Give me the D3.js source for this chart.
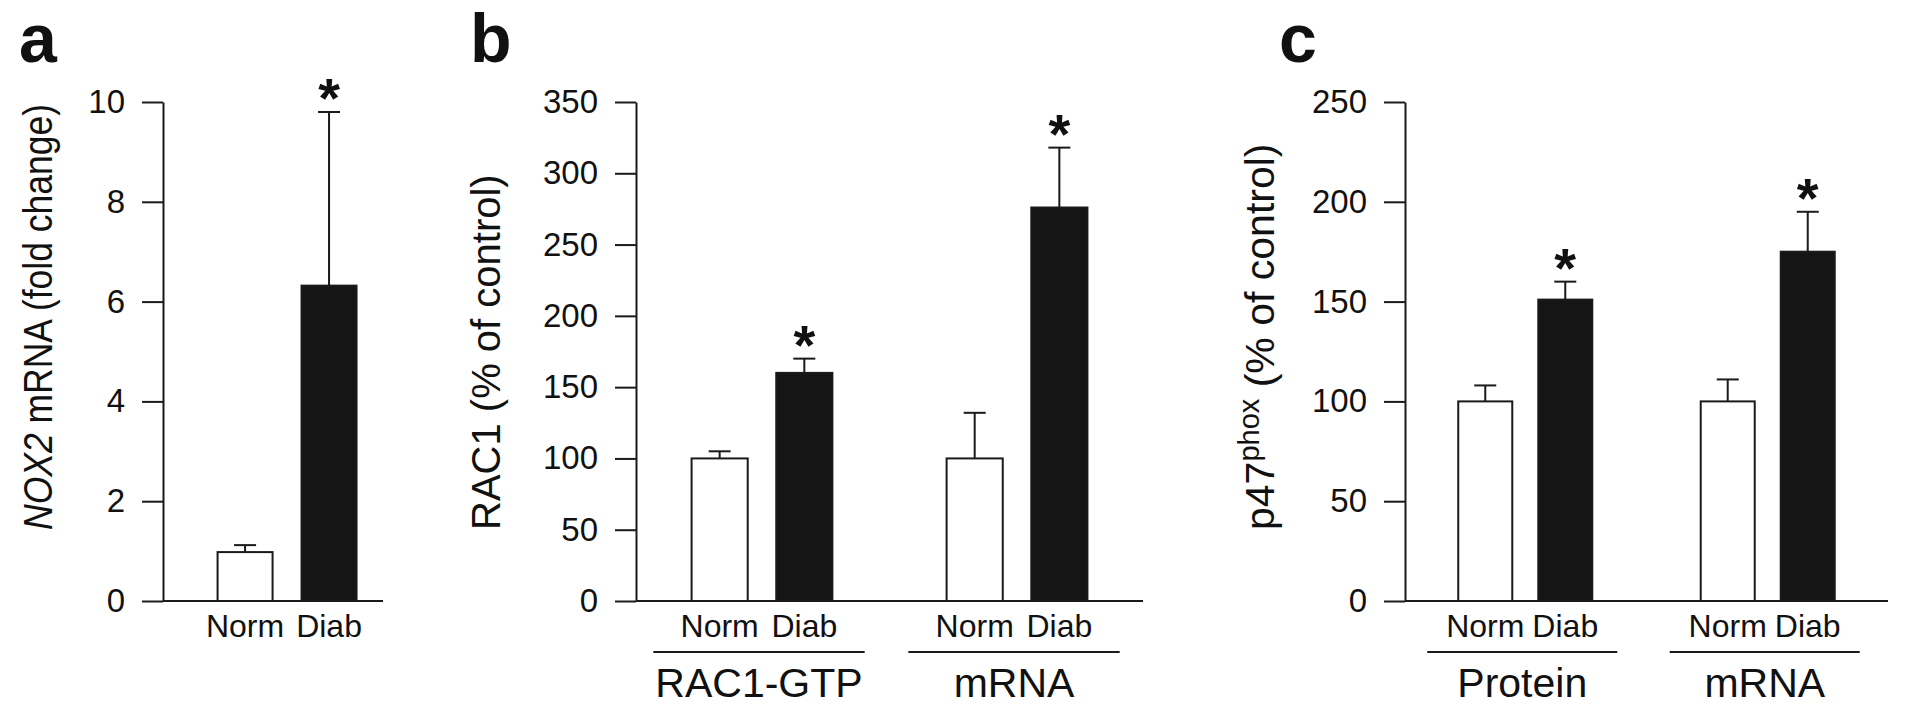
<!DOCTYPE html>
<html><head><meta charset="utf-8">
<script src="https://cdn.jsdelivr.net/npm/d3@7"></script>
<style>
html,body{margin:0;padding:0;background:#fff;}
svg{display:block;}
text{font-family:"Liberation Sans", Arial, Helvetica, sans-serif; fill:#111;}
</style></head><body>
<svg id="chart" width="1920" height="711"></svg>
<script>
// ---------------- data ----------------
const conditions = ["Norm", "Diab"];

const panelAGroups = ["all"];
const panelAMeans  = [[0.98, 6.32]];
const panelAErrors = [[0.14, 3.48]];
const panelAStars  = [[false, true]];
const panelATicks  = [0, 2, 4, 6, 8, 10];

const panelBGroups = ["RAC1-GTP", "mRNA"];
const panelBMeans  = [[100, 160], [100, 276]];
const panelBErrors = [[5, 10], [32, 42]];
const panelBStars  = [[false, true], [false, true]];
const panelBTicks  = [0, 50, 100, 150, 200, 250, 300, 350];

const panelCGroups = ["Protein", "mRNA"];
const panelCMeans  = [[100, 151], [100, 175]];
const panelCErrors = [[8, 9], [11, 20]];
const panelCStars  = [[false, true], [false, true]];
const panelCTicks  = [0, 50, 100, 150, 200, 250];

// ---------------- drawing ----------------
const svg = d3.select("#chart");
const FONT = '"Liberation Sans", Arial, Helvetica, sans-serif';
const INK = "#1a1a1a";

function drawPanel(cfg) {
  const g = svg.append("g");
  const y = d3.scaleLinear().domain([0, d3.max(cfg.ticks)]).range([601, 102]);
  const xOuter = d3.scaleBand().domain(cfg.groups)
      .range([cfg.axisX, cfg.endX])
      .paddingInner(cfg.outerPI).paddingOuter(cfg.outerPO).align(cfg.align);
  const xInner = d3.scaleBand().domain(conditions)
      .range([0, xOuter.bandwidth()])
      .paddingInner(cfg.innerPI).paddingOuter(cfg.innerPI / 2);

  // y axis
  const yAxis = d3.axisLeft(y).tickValues(cfg.ticks).tickSize(21).tickSizeOuter(0).tickPadding(17);
  const ya = g.append("g").attr("transform", `translate(${cfg.axisX},0)`).call(yAxis);
  ya.attr("font-size", 33).attr("font-family", FONT);
  ya.selectAll("path.domain").attr("stroke", INK).attr("stroke-width", 2);
  ya.selectAll(".tick line").attr("stroke", INK).attr("stroke-width", 2);
  ya.selectAll(".tick text").attr("fill", "#111");

  // baseline
  g.append("line").attr("x1", cfg.axisX).attr("x2", cfg.endX)
    .attr("y1", y(0)).attr("y2", y(0)).attr("stroke", INK).attr("stroke-width", 2);

  cfg.groups.forEach((grp, gi) => {
    const gx = xOuter(grp);
    conditions.forEach((c, ci) => {
      const m = cfg.means[gi][ci], e = cfg.errors[gi][ci];
      const x0 = gx + xInner(c), w = xInner.bandwidth(), cx = x0 + w / 2;
      // error bar
      g.append("line").attr("x1", cx).attr("x2", cx).attr("y1", y(m)).attr("y2", y(m + e))
        .attr("stroke", INK).attr("stroke-width", 2);
      g.append("line").attr("x1", cx - 11).attr("x2", cx + 11).attr("y1", y(m + e)).attr("y2", y(m + e))
        .attr("stroke", INK).attr("stroke-width", 2);
      // bar
      g.append("rect").attr("x", x0).attr("y", y(m)).attr("width", w).attr("height", y(0) - y(m))
        .attr("fill", ci === 0 ? "#ffffff" : "#151515").attr("stroke", INK).attr("stroke-width", 2);
      if (cfg.stars[gi][ci]) {
        g.append("text").attr("x", cx).attr("y", y(m + e) + 5).attr("text-anchor", "middle")
          .attr("font-size", 56).attr("font-weight", "bold").text("*");
      }
    });
    // condition labels
    const xa = g.append("g").attr("transform", `translate(${gx},${y(0)})`)
      .call(d3.axisBottom(xInner).tickSize(0).tickPadding(13));
    xa.attr("font-size", 32).attr("font-family", FONT);
    xa.select("path.domain").remove();
    xa.selectAll(".tick text").attr("fill", "#111");

    if (cfg.groupLabels) {
      const gc = gx + xOuter.bandwidth() / 2;
      const hw = xOuter.bandwidth() / 2 + cfg.lineExtra;
      g.append("line").attr("x1", gc - hw - 3).attr("x2", gc + hw - 3).attr("y1", 652).attr("y2", 652)
        .attr("stroke", INK).attr("stroke-width", 2);
      g.append("text").attr("x", gc - 3).attr("y", 697).attr("text-anchor", "middle")
        .attr("font-size", 41).text(grp);
    }
  });

  // panel letter
  g.append("text").attr("x", cfg.letterX).attr("y", 62).attr("font-size", 68)
    .attr("font-weight", "bold").attr("fill", "#111").text(cfg.letter);

  // y label
  const yl = g.append("text").attr("transform", "rotate(-90)")
    .attr("x", -530).attr("y", cfg.labelBaseX).attr("text-anchor", "start")
    .attr("font-size", cfg.labelSize);
  cfg.label(yl);
  return g;
}

drawPanel({
  letter: "a", letterX: 19, groups: panelAGroups, means: panelAMeans, errors: panelAErrors,
  stars: panelAStars, ticks: panelATicks, axisX: 163, endX: 383,
  outerPI: 0, outerPO: 0.155, align: 0.77, innerPI: 0.345, groupLabels: false,
  labelBaseX: 52, labelSize: 40,
  label: t => {
    t.attr("textLength", 426).attr("lengthAdjust", "spacingAndGlyphs");
    t.append("tspan").attr("font-style", "italic").text("NOX2");
    t.append("tspan").text(" mRNA  (fold change)");
  }
});

drawPanel({
  letter: "b", letterX: 470, groups: panelBGroups, means: panelBMeans, errors: panelBErrors,
  stars: panelBStars, ticks: panelBTicks, axisX: 636, endX: 1143,
  outerPI: 0.336, outerPO: 0.162, align: 0.5, innerPI: 0.337, groupLabels: true, lineExtra: 21,
  labelBaseX: 500, labelSize: 40,
  label: t => { t.text("RAC1 (% of control)"); }
});

drawPanel({
  letter: "c", letterX: 1279, groups: panelCGroups, means: panelCMeans, errors: panelCErrors,
  stars: panelCStars, ticks: panelCTicks, axisX: 1405, endX: 1888,
  outerPI: 0.34, outerPO: 0.166, align: 0.5, innerPI: 0.325, groupLabels: true, lineExtra: 15,
  labelBaseX: 1274, labelSize: 41,
  label: t => {
    t.append("tspan").text("p47");
    t.append("tspan").attr("font-size", 29).attr("dy", -15).text("phox");
    t.append("tspan").attr("dy", 15).text(" (% of control)");
  }
});
</script>
</body></html>
